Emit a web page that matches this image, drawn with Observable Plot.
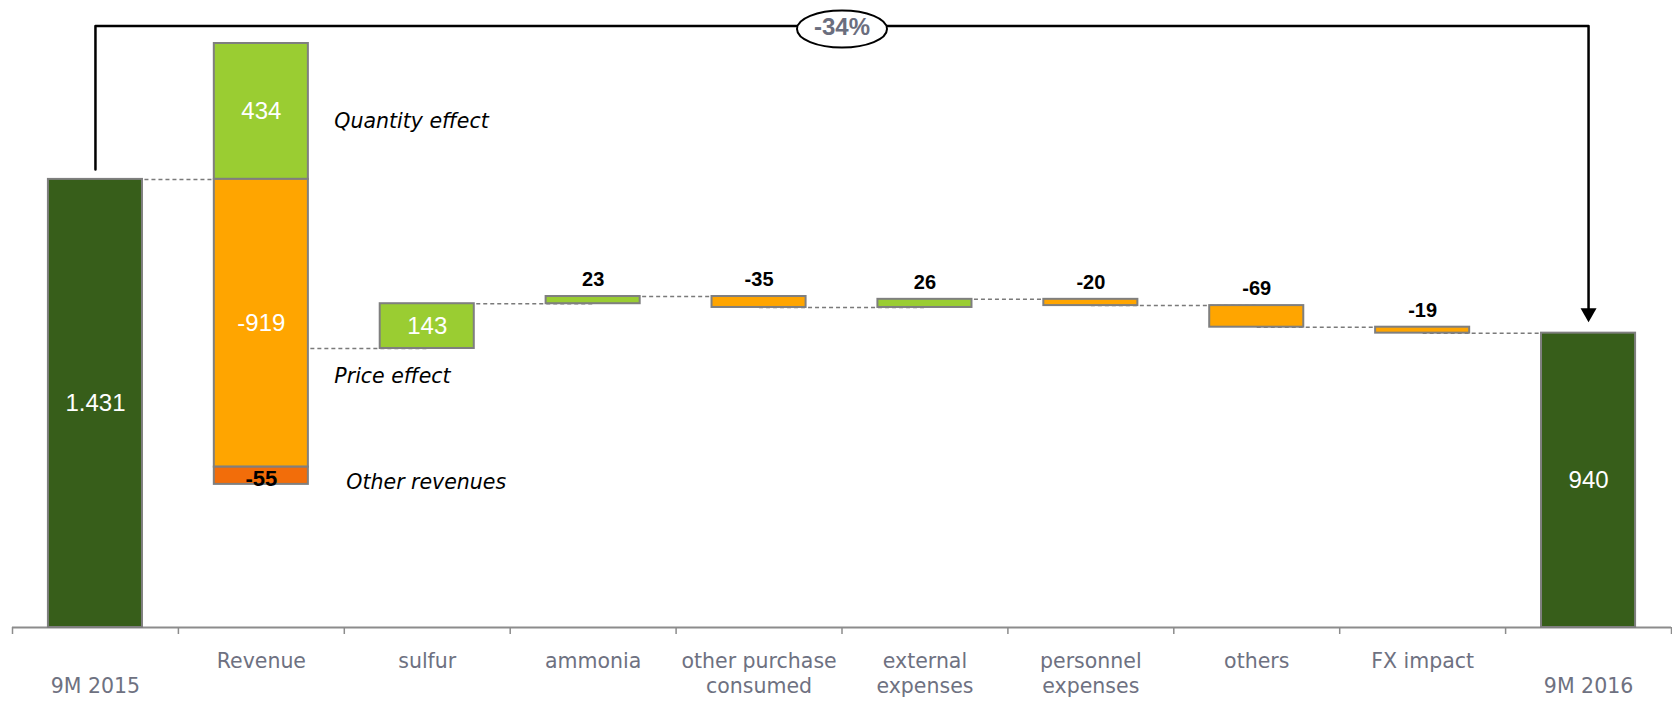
<!DOCTYPE html>
<html>
<head>
<meta charset="utf-8">
<script src="https://cdn.jsdelivr.net/npm/d3@7"></script>
<script src="https://cdn.jsdelivr.net/npm/@observablehq/plot@0.6"></script>
<style>
  html, body { margin: 0; padding: 0; background: #fff; }
  #chart svg { display: block; }
</style>
</head>
<body>
<div id="chart"></div>
<script>
// ---------- data ----------
const categories = ["9M 2015", "Revenue", "sulfur", "ammonia", "other purchase consumed",
  "external expenses", "personnel expenses", "others", "FX impact", "9M 2016"];
const tickLabels = ["\n9M 2015", "Revenue", "sulfur", "ammonia", "other purchase\nconsumed",
  "external\nexpenses", "personnel\nexpenses", "others", "FX impact", "\n9M 2016"];
const startTotal = 1431;
const endTotal = 940;
const revenueParts = ["Quantity effect", "Price effect", "Other revenues"];
const revenueValues = [434, -919, -55];
const stepCategories = ["sulfur", "ammonia", "other purchase consumed", "external expenses",
  "personnel expenses", "others", "FX impact"];
const stepValues = [143, 23, -35, 26, -20, -69, -19];
const changeLabel = "-34%";

// ---------- styles / layout ----------
const W = 1672, H = 707;
const mTop = 43, mBottom = 80, mLeft = 12, mRight = 1;
const colors = {total: "#375e1a", up: "#9acd32", down: "#ffa500", other: "#f26d0a"};
const fmt = d3.formatLocale({decimal: ",", thousands: ".", grouping: [3], currency: ["", ""], minus: "-"}).format(",");

// ---------- build waterfall ----------
const segments = [];
const connectors = [];
segments.push({cat: categories[0], y1: 0, y2: startTotal, value: startTotal, fill: colors.total, kind: "total"});
connectors.push({from: categories[0], to: categories[1], level: startTotal});
let up = startTotal, down = startTotal;
revenueValues.forEach((v, i) => {
  let y1, y2;
  if (v >= 0) { y1 = up; y2 = up + v; up += v; }
  else { y1 = down; y2 = down + v; down += v; }
  segments.push({cat: "Revenue", y1, y2, value: v, part: revenueParts[i],
    fill: v >= 0 ? colors.up : (i === revenueValues.length - 1 ? colors.other : colors.down), kind: "revenue"});
});
let level = startTotal + d3.sum(revenueValues);
const revenueNet = level;
let prev = "Revenue";
stepCategories.forEach((c, i) => {
  const v = stepValues[i];
  connectors.push({from: prev, to: c, level});
  segments.push({cat: c, y1: level, y2: level + v, value: v, fill: v >= 0 ? colors.up : colors.down, kind: "step"});
  level += v;
  prev = c;
});
connectors.push({from: prev, to: categories[categories.length - 1], level});
segments.push({cat: categories[categories.length - 1], y1: 0, y2: endTotal, value: endTotal, fill: colors.total, kind: "total"});

const yMax = d3.max(segments, d => Math.max(d.y1, d.y2));
const k = (H - mTop - mBottom) / yMax;           // px per unit
const step = (W - mLeft - mRight) / categories.length;
const px = p => p / k;                            // px -> units

const insideLabels = segments.filter(d => Math.abs(d.value) * k > 30);
const smallRevenue = segments.filter(d => d.kind === "revenue" && Math.abs(d.value) * k <= 30);
const aboveLabels = segments.filter(d => d.kind === "step" && Math.abs(d.value) * k <= 30);
const revenueSegs = segments.filter(d => d.kind === "revenue");

const bracketTop = yMax + px(17.5);
const bracket = [
  {x: categories[0], y: startTotal + px(10)},
  {x: categories[0], y: bracketTop},
  {x: categories[categories.length - 1], y: bracketTop},
  {x: categories[categories.length - 1], y: endTotal + px(24)}
];

const ellipse = {draw(ctx) {
  const rx = 45, ry = 18.5, c = 0.5523;
  ctx.moveTo(rx, 0);
  ctx.bezierCurveTo(rx, ry * c, rx * c, ry, 0, ry);
  ctx.bezierCurveTo(-rx * c, ry, -rx, ry * c, -rx, 0);
  ctx.bezierCurveTo(-rx, -ry * c, -rx * c, -ry, 0, -ry);
  ctx.bezierCurveTo(rx * c, -ry, rx, -ry * c, rx, 0);
  ctx.closePath();
}};
const downTriangle = {draw(ctx) {
  ctx.moveTo(-8, -7); ctx.lineTo(8, -7); ctx.lineTo(0, 7); ctx.closePath();
}};

const valueFont = "'Liberation Sans', Arial, sans-serif";
const labelFont = "'DejaVu Sans', Verdana, sans-serif";
const italicStyle = {textAnchor: "start", fill: "#000", fontSize: 20.5, fontStyle: "italic", fontFamily: labelFont};

const chart = Plot.plot({
  width: W, height: H,
  marginTop: mTop, marginBottom: mBottom, marginLeft: mLeft, marginRight: mRight,
  x: {domain: categories, paddingInner: 0.433, paddingOuter: 0.2165, round: false, axis: null},
  y: {domain: [0, yMax], axis: null},
  style: {background: "#fff", overflow: "visible"},
  marks: [
    // axis baseline
    Plot.ruleY([0], {stroke: "#8c8c8c", strokeWidth: 2}),
    // boundary ticks
    Plot.ruleX(categories, {x: d => d, y1: 0, y2: -px(7), dx: -step / 2, stroke: "#8c8c8c", strokeWidth: 1.5}),
    Plot.ruleX(categories.slice(-1), {x: d => d, y1: 0, y2: -px(7), dx: step / 2, stroke: "#8c8c8c", strokeWidth: 1.5}),
    // dashed connectors
    Plot.link(connectors, {x1: "from", x2: "to", y1: "level", y2: "level", stroke: "#7a7a7a", strokeWidth: 1.5, strokeDasharray: "4,3"}),
    // bars
    Plot.barY(segments, {x: "cat", y1: "y1", y2: "y2", fill: "fill", stroke: "#7f7f7f", strokeWidth: 2}),
    // inside labels
    Plot.text(insideLabels, {x: "cat", y: d => (d.y1 + d.y2) / 2, text: d => fmt(d.value), fill: "#fff",
      fontSize: 24, fontFamily: valueFont}),
    Plot.text(smallRevenue, {x: "cat", y: d => (d.y1 + d.y2) / 2, dy: 3, text: d => fmt(d.value), fill: "#000",
      fontSize: 22, fontWeight: "bold", fontFamily: valueFont}),
    Plot.text(aboveLabels, {x: "cat", y: d => Math.max(d.y1, d.y2), dy: -17, text: d => fmt(d.value), fill: "#000",
      fontSize: 20, fontWeight: "bold", fontFamily: valueFont}),
    // italic annotations
    Plot.text(revenueSegs.slice(0, 1), {x: "cat", y: d => (d.y1 + d.y2) / 2, dx: 73, dy: 10, text: "part", ...italicStyle}),
    Plot.text(revenueSegs.slice(1, 2), {x: "cat", y: revenueNet, dx: 73, dy: 28, text: "part", ...italicStyle}),
    Plot.text(revenueSegs.slice(2, 3), {x: "cat", y: d => (d.y1 + d.y2) / 2, dx: 85, dy: 7, text: "part", ...italicStyle}),
    // bracket
    Plot.line(bracket, {x: "x", y: "y", stroke: "#000", strokeWidth: 2.5, curve: "linear"}),
    Plot.dot([{x: categories[categories.length - 1], y: endTotal + px(11)}], {x: "x", y: "y", dy: -7,
      symbol: downTriangle, fill: "#000", stroke: "none"}),
    Plot.dot([{x: categories[4], y: bracketTop}], {x: "x", y: "y", dx: step / 2, dy: 3,
      symbol: ellipse, fill: "#fff", stroke: "#000", strokeWidth: 2}),
    Plot.text([{x: categories[4], y: bracketTop, t: changeLabel}], {x: "x", y: "y", dx: step / 2, dy: 1, text: "t",
      fill: "#6b6e7e", fontSize: 24, fontWeight: "bold", fontFamily: valueFont}),
    // category labels
    Plot.text(categories, {x: d => d, text: (d, i) => tickLabels[i], frameAnchor: "bottom", dy: 22,
      lineAnchor: "top", lineHeight: 1.25, fontSize: 20.5, fontFamily: labelFont, fill: "#6e7181"})
  ]
});
document.getElementById("chart").appendChild(chart);
</script>
</body>
</html>
